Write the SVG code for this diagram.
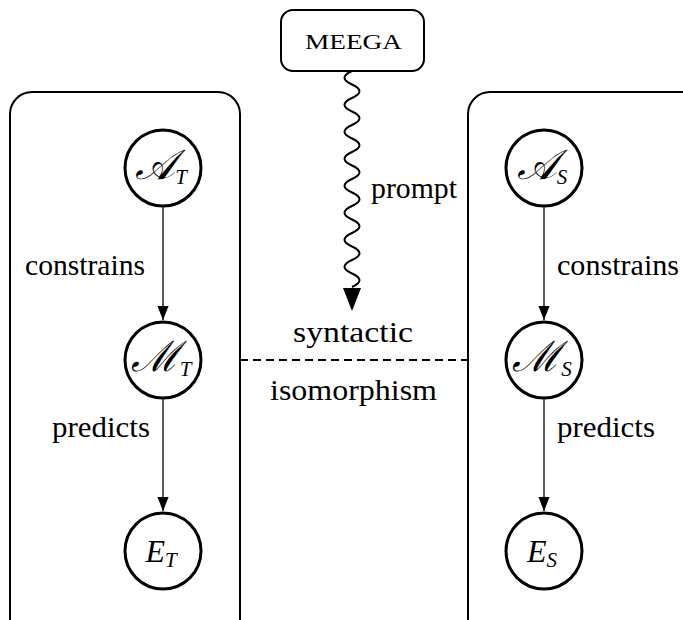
<svg xmlns="http://www.w3.org/2000/svg" width="683" height="620" viewBox="0 0 683 620">
<style>
.box{fill:none;stroke:#000;stroke-width:2}
.node{fill:#fff;stroke:#000;stroke-width:3}
.t{font-family:'Liberation Serif','DejaVu Serif',serif;font-size:29px;fill:#000}
.m{font-family:'Liberation Serif','DejaVu Serif',serif;font-style:italic;font-size:32px;fill:#000}
.scr{font-size:42px}
.sub{font-size:21px}
.edge{fill:none;stroke:#000;stroke-width:1.3}
</style>
<defs>
<marker id="ah2" viewBox="0 0 10 10" refX="10" refY="5" markerWidth="14" markerHeight="14" markerUnits="userSpaceOnUse" orient="auto">
<path d="M0,1 L10,5 L0,9 z" fill="#000"/>
</marker>
</defs>
<g id="left-box"><rect class="box" x="10" y="92" width="230" height="560" rx="22"/></g>
<g id="right-box"><rect class="box" x="468" y="92" width="260" height="560" rx="22"/></g>
<g id="meega"><rect class="box" x="281" y="10" width="143" height="61" rx="12"/><text font-family="'Liberation Serif', serif" font-size="22" fill="#000" x="305" y="49" textLength="97" lengthAdjust="spacingAndGlyphs">MEEGA</text></g>
<g id="connectors" font-family="'Liberation Serif', serif">
<path class="edge" d="M163,207 L163,320" marker-end="url(#ah2)"/>
<path class="edge" d="M163,399 L163,511" marker-end="url(#ah2)"/>
<path class="edge" d="M544,207 L544,320" marker-end="url(#ah2)"/>
<path class="edge" d="M544,399 L544,511" marker-end="url(#ah2)"/>
<path d="M240,360 L468,360" fill="none" stroke="#000" stroke-width="2" stroke-dasharray="8,5"/>
<path d="M352,71 q-15,6.75 0,13.5 t0,13.5 t0,13.5 t0,13.5 t0,13.5 t0,13.5 t0,13.5 t0,13.5 t0,13.5 t0,13.5 t0,13.5 t0,13.5 t0,13.5 t0,13.5 t0,13.5 t0,13.5" fill="none" stroke="#000" stroke-width="2"/>
<path d="M343,288 L361,288 L352,311 z" fill="#000"/>
<text class="t" x="25" y="275" textLength="120" lengthAdjust="spacingAndGlyphs">constrains</text>
<text class="t" x="52" y="437" textLength="98" lengthAdjust="spacingAndGlyphs">predicts</text>
<text class="t" x="557" y="275" textLength="122" lengthAdjust="spacingAndGlyphs">constrains</text>
<text class="t" x="557" y="437" textLength="98" lengthAdjust="spacingAndGlyphs">predicts</text>
<text class="t" x="371" y="198" textLength="86" lengthAdjust="spacingAndGlyphs">prompt</text>
<text class="t" x="293" y="342" textLength="120" lengthAdjust="spacingAndGlyphs">syntactic</text>
<text class="t" x="270" y="400" textLength="167" lengthAdjust="spacingAndGlyphs">isomorphism</text>
</g>
<g id="A_T"><circle class="node" cx="163" cy="168" r="38"/><text class="m" x="161" y="179" text-anchor="middle"><tspan class="scr">𝒜</tspan><tspan class="sub" dy="5">T</tspan></text></g>
<g id="M_T"><circle class="node" cx="163" cy="360" r="38"/><text class="m" x="161" y="371" text-anchor="middle"><tspan class="scr">ℳ</tspan><tspan class="sub" dy="5">T</tspan></text></g>
<g id="E_T"><circle class="node" cx="163" cy="551" r="38"/><text class="m" x="161" y="562" text-anchor="middle">E<tspan class="sub" dy="5">T</tspan></text></g>
<g id="A_S"><circle class="node" cx="544" cy="168" r="38"/><text class="m" x="542" y="179" text-anchor="middle"><tspan class="scr">𝒜</tspan><tspan class="sub" dy="5">S</tspan></text></g>
<g id="M_S"><circle class="node" cx="544" cy="360" r="38"/><text class="m" x="542" y="371" text-anchor="middle"><tspan class="scr">ℳ</tspan><tspan class="sub" dy="5">S</tspan></text></g>
<g id="E_S"><circle class="node" cx="544" cy="551" r="38"/><text class="m" x="542" y="562" text-anchor="middle">E<tspan class="sub" dy="5">S</tspan></text></g>
</svg>
